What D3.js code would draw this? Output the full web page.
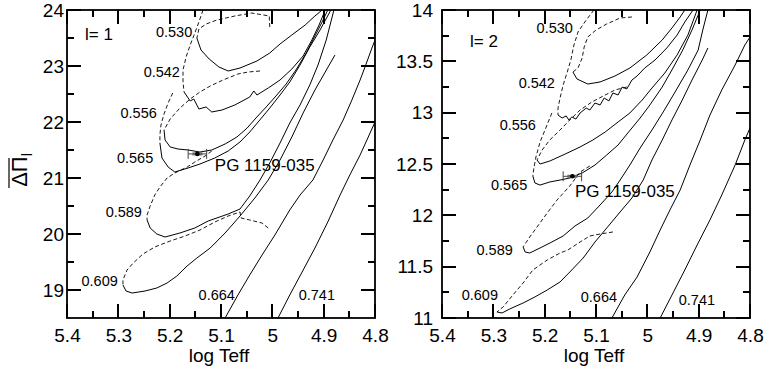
<!DOCTYPE html>
<html>
<head>
<meta charset="utf-8">
<script src="https://cdnjs.cloudflare.com/ajax/libs/d3/7.8.5/d3.min.js"></script>
<style>
  body { margin: 0; background: #fff; }
  svg { font-family: "Liberation Sans", Arial, sans-serif; display: block; }
</style>
</head>
<body>
<div class="svg-container"></div>
<script>
// stellar masses of the tracks (Msun)
const masses = ['0.530', '0.542', '0.556', '0.565', '0.589', '0.609', '0.664', '0.741'];

// l = 1 : [log Teff, mean period spacing (s)], dashed = before the knee, solid = after
const l1Dashed = [
  [[5.005,23.696],[5.006,23.893],[5.040,23.946],[5.073,23.893],[5.108,23.821],[5.129,23.750],[5.143,23.661],[5.147,23.500]],
  [[5.135,24.0],[5.143,23.786],[5.151,23.589],[5.160,23.375],[5.168,23.161],[5.174,22.929],[5.174,22.714],[5.172,22.536]],
  [[5.024,22.911],[5.047,22.893],[5.067,22.857],[5.096,22.750],[5.121,22.643],[5.141,22.536],[5.160,22.411],[5.180,22.250],[5.199,22.054],[5.211,21.857]],
  [[5.194,22.518],[5.203,22.339],[5.211,22.143],[5.217,21.946],[5.219,21.768],[5.219,21.625]],
  [[5.118,21.482],[5.131,21.393],[5.151,21.286],[5.166,21.196],[5.190,21.089],[5.205,21.000],[5.219,20.839],[5.229,20.696],[5.238,20.500],[5.244,20.339],[5.244,20.250]],
  [[5.008,20.107],[5.020,20.196],[5.044,20.250],[5.061,20.286],[5.063,20.393],[5.086,20.321],[5.112,20.214],[5.141,20.071],[5.170,19.964],[5.199,19.875],[5.229,19.768],[5.252,19.643],[5.271,19.482],[5.283,19.357],[5.291,19.179],[5.291,19.089]],
  [],
  []
];
const l1Solid = [
  [[5.147,23.500],[5.139,23.286],[5.123,23.125],[5.104,22.982],[5.086,22.911],[5.063,22.964],[5.030,23.089],[5.005,23.232],[4.985,23.393],[4.962,23.554],[4.936,23.732],[4.917,23.893],[4.903,24.0]],
  [[5.172,22.536],[5.160,22.375],[5.153,22.411],[5.143,22.232],[5.129,22.268],[5.118,22.179],[5.098,22.214],[5.073,22.304],[5.044,22.446],[5.036,22.554],[5.030,22.482],[5.008,22.607],[4.985,22.750],[4.962,22.946],[4.940,23.179],[4.923,23.464],[4.909,23.732],[4.897,24.0]],
  [[5.211,21.857],[5.209,21.679],[5.199,21.554],[5.184,21.518],[5.164,21.500],[5.141,21.464],[5.118,21.500],[5.092,21.607],[5.069,21.732],[5.049,21.893],[5.032,22.071],[5.012,22.268],[4.993,22.464],[4.973,22.679],[4.954,22.929],[4.934,23.232],[4.917,23.536],[4.903,23.786],[4.892,24.0]],
  [[5.219,21.625],[5.215,21.357],[5.203,21.196],[5.190,21.107],[5.164,21.179],[5.141,21.250],[5.112,21.357],[5.086,21.482],[5.063,21.643],[5.044,21.821],[5.026,22.018],[5.005,22.250],[4.985,22.482],[4.966,22.714],[4.946,23.018],[4.927,23.339],[4.907,23.643],[4.886,24.0]],
  [[5.244,20.250],[5.238,20.107],[5.225,20.0],[5.209,19.946],[5.180,20.018],[5.151,20.107],[5.125,20.232],[5.086,20.357],[5.063,20.446],[5.044,20.679],[5.024,20.964],[5.005,21.268],[4.985,21.625],[4.966,21.982],[4.946,22.304],[4.927,22.661],[4.911,23.018],[4.895,23.464],[4.880,24.0]],
  [[5.291,19.089],[5.285,18.982],[5.273,18.946],[5.248,18.982],[5.225,19.036],[5.205,19.125],[5.186,19.250],[5.166,19.429],[5.147,19.571],[5.121,19.750],[5.092,20.018],[5.063,20.321],[5.034,20.643],[5.008,20.964],[4.985,21.321],[4.962,21.732],[4.940,22.161],[4.917,22.571],[4.897,22.893],[4.878,23.196]],
  [[5.092,18.5],[5.067,18.911],[5.044,19.268],[5.020,19.625],[4.995,19.982],[4.966,20.429],[4.946,20.696],[4.921,20.964],[4.901,21.321],[4.882,21.679],[4.862,22.036],[4.845,22.393],[4.829,22.750],[4.818,23.018],[4.806,23.321],[4.800,23.464]],
  [[4.989,18.5],[4.966,18.911],[4.942,19.321],[4.917,19.750],[4.892,20.214],[4.868,20.696],[4.849,21.054],[4.829,21.411],[4.814,21.714],[4.800,22.0]]
];
// label anchors (right end of text, baseline)
const l1LabelAt = [[5.156,23.518],[5.180,22.804],[5.225,22.071],[5.232,21.268],[5.254,20.304],[5.301,19.071],[5.073,18.821],[4.878,18.821]];

// l = 2
const l2Dashed = [
  [[5.030,13.932],[5.053,13.922],[5.079,13.864],[5.100,13.805],[5.116,13.737],[5.123,13.640],[5.127,13.532],[5.135,13.435],[5.145,13.396]],
  [[5.104,14.0],[5.119,13.903],[5.135,13.786],[5.143,13.659],[5.149,13.513],[5.156,13.396],[5.164,13.269],[5.170,13.143],[5.174,13.045],[5.174,12.977]],
  [[5.040,13.250],[5.063,13.221],[5.086,13.162],[5.108,13.104],[5.131,13.026],[5.151,12.929],[5.170,12.831],[5.190,12.734],[5.205,12.636],[5.215,12.539]],
  [[5.186,12.997],[5.197,12.860],[5.209,12.714],[5.217,12.568],[5.221,12.461],[5.223,12.383]],
  [[5.112,12.481],[5.131,12.422],[5.151,12.286],[5.176,12.149],[5.195,12.023],[5.215,11.886],[5.229,11.789],[5.242,11.692]],
  [[5.067,11.838],[5.092,11.818],[5.112,11.799],[5.131,11.740],[5.155,11.662],[5.170,11.633],[5.195,11.565],[5.223,11.468],[5.242,11.341],[5.262,11.224],[5.281,11.107],[5.293,11.059]],
  [],
  []
];
const l2Solid = [
  [[5.145,13.396],[5.137,13.328],[5.116,13.279],[5.092,13.299],[5.063,13.357],[5.034,13.435],[5.001,13.562],[4.971,13.708],[4.952,13.825],[4.936,13.932],[4.927,14.0]],
  [[5.174,12.977],[5.166,12.948],[5.158,12.968],[5.153,12.929],[5.147,12.958],[5.139,12.938],[5.131,12.997],[5.119,13.045],[5.112,13.026],[5.102,13.094],[5.092,13.075],[5.084,13.143],[5.075,13.114],[5.067,13.192],[5.057,13.172],[5.049,13.250],[5.040,13.231],[5.030,13.318],[5.020,13.357],[5.005,13.435],[4.985,13.513],[4.962,13.630],[4.942,13.756],[4.927,13.883],[4.911,14.0]],
  [[5.215,12.539],[5.209,12.500],[5.190,12.529],[5.160,12.597],[5.131,12.666],[5.106,12.734],[5.082,12.812],[5.057,12.909],[5.034,12.997],[5.010,13.123],[4.991,13.240],[4.966,13.386],[4.942,13.562],[4.921,13.756],[4.903,14.0]],
  [[5.223,12.383],[5.219,12.315],[5.209,12.295],[5.190,12.325],[5.170,12.344],[5.151,12.364],[5.127,12.412],[5.102,12.490],[5.079,12.588],[5.057,12.685],[5.038,12.802],[5.014,12.948],[4.995,13.075],[4.971,13.250],[4.950,13.435],[4.931,13.610],[4.913,13.805],[4.897,14.0]],
  [[5.242,11.692],[5.238,11.643],[5.229,11.633],[5.209,11.682],[5.186,11.740],[5.164,11.799],[5.141,11.896],[5.116,11.974],[5.092,12.101],[5.069,12.227],[5.053,12.344],[5.034,12.490],[5.014,12.656],[4.991,12.831],[4.969,13.007],[4.946,13.201],[4.921,13.416],[4.901,13.610],[4.892,13.805],[4.882,14.0]],
  [[5.293,11.059],[5.283,11.049],[5.268,11.088],[5.242,11.146],[5.219,11.205],[5.195,11.273],[5.170,11.351],[5.151,11.448],[5.125,11.584],[5.102,11.740],[5.079,11.877],[5.053,12.033],[5.030,12.169],[5.008,12.344],[4.991,12.539],[4.971,12.734],[4.952,12.929],[4.932,13.123],[4.913,13.318],[4.893,13.513],[4.882,13.630]],
  [[5.069,11.0],[5.044,11.224],[5.020,11.399],[4.995,11.643],[4.975,11.857],[4.956,12.052],[4.936,12.247],[4.917,12.490],[4.897,12.734],[4.878,12.977],[4.855,13.221],[4.829,13.464],[4.810,13.659],[4.800,13.737]],
  [[4.975,11.0],[4.952,11.224],[4.927,11.468],[4.903,11.711],[4.878,11.955],[4.855,12.198],[4.829,12.490],[4.810,12.734],[4.800,12.851]]
];
const l2LabelAt = [[5.145,13.776],[5.180,13.240],[5.217,12.831],[5.234,12.247],[5.262,11.614],[5.291,11.175],[5.059,11.156],[4.868,11.127]];

// PG 1159-035: log Teff (low, mid, high) and observed spacings for l=1, l=2
const pgName = 'PG 1159-035';
const pgLogTeff = [5.128, 5.146, 5.164];
const pgSpacing = [21.43, 12.38];
const pgLabelAt = [[5.112, 21.125], [5.141, 12.179]];

// axis ticks
const xMajor = [5.4, 5.3, 5.2, 5.1, 5, 4.9, 4.8];
const xMinor = [5.35, 5.25, 5.15, 5.05, 4.95, 4.85];
const l1Major = [19, 20, 21, 22, 23, 24];
const l1Minor = [19.5, 20.5, 21.5, 22.5, 23.5];
const l2Major = [11, 11.5, 12, 12.5, 13, 13.5, 14];
const l2Minor = [11.25, 11.75, 12.25, 12.75, 13.25, 13.75];

const W = 766, H = 372;
const plotTop = 10, plotBottom = 318, pw = 308;
const majorLen = 14, minorLen = 7;

const svg = d3.select('.svg-container').append('svg')
  .attr('width', W).attr('height', H);

// tick marks are collected here and drawn last, on top of everything
const tickLayer = [];

function drawPanel(p) {
  const x = d3.scaleLinear().domain([5.4, 4.8]).range([p.left, p.left + pw]);
  const y = d3.scaleLinear().domain(p.yDomain).range([plotBottom, plotTop]);
  const right = p.left + pw;
  const g = svg.append('g');

  g.append('clipPath').attr('id', 'clip' + p.id)
    .append('rect').attr('x', p.left).attr('y', plotTop).attr('width', pw).attr('height', plotBottom - plotTop);

  const line = d3.line().x(d => x(d[0])).y(d => y(d[1]));
  const tracks = g.append('g').attr('clip-path', `url(#clip${p.id})`);

  tracks.selectAll('.solid')
    .data(p.solid)
    .join('path')
    .attr('class', 'solid')
    .attr('d', d => line(d))
    .attr('fill', 'none').attr('stroke', '#000').attr('stroke-width', 1);

  tracks.selectAll('.dashed')
    .data(p.dashed.filter(d => d.length))
    .join('path')
    .attr('class', 'dashed')
    .attr('d', d => line(d))
    .attr('fill', 'none').attr('stroke', '#000').attr('stroke-width', 0.9)
    .attr('stroke-dasharray', '4,2.5');

  // mass labels
  g.selectAll('.mass-label')
    .data(masses)
    .join('text')
    .attr('class', 'mass-label')
    .attr('x', (d, i) => x(p.labelAt[i][0]))
    .attr('y', (d, i) => y(p.labelAt[i][1]))
    .attr('text-anchor', 'end')
    .attr('font-size', 14.5)
    .text(d => d);

  // error bar for PG 1159-035
  const ey = y(p.pgY);
  g.append('line')
    .attr('x1', x(pgLogTeff[0])).attr('x2', x(pgLogTeff[2]))
    .attr('y1', ey).attr('y2', ey)
    .attr('stroke', '#444').attr('stroke-width', 1);
  g.selectAll('.cap')
    .data([pgLogTeff[0], pgLogTeff[2]])
    .join('line')
    .attr('class', 'cap')
    .attr('x1', d => x(d)).attr('x2', d => x(d))
    .attr('y1', ey - 5).attr('y2', ey + 5)
    .attr('stroke', '#444').attr('stroke-width', 1);
  g.append('line')
    .attr('x1', x(pgLogTeff[1]) - 5).attr('x2', x(pgLogTeff[1]) + 5)
    .attr('y1', ey).attr('y2', ey)
    .attr('stroke', '#666').attr('stroke-width', 3);
  g.append('circle')
    .attr('cx', x(pgLogTeff[1])).attr('cy', ey).attr('r', 2.3)
    .attr('fill', '#000');

  g.append('text')
    .attr('x', x(p.pgLabel[0])).attr('y', y(p.pgLabel[1]))
    .attr('font-size', 17)
    .text(pgName);

  g.append('text')
    .attr('x', p.left + p.lPos[0]).attr('y', p.lPos[1])
    .attr('font-size', 17)
    .text(p.lText);

  // tick labels from d3 axes
  const fmt = d => d;
  g.append('g').attr('class', 'x-axis').attr('transform', `translate(0,${plotBottom})`)
    .call(d3.axisBottom(x).tickValues(xMajor).tickSize(0).tickPadding(10.5).tickFormat(fmt));
  g.append('g').attr('class', 'y-axis').attr('transform', `translate(${p.left},0)`)
    .call(d3.axisLeft(y).tickValues(p.major).tickSize(0).tickPadding(p.yPad).tickFormat(fmt));
  g.selectAll('.domain').remove();
  g.selectAll('.tick text')
    .attr('font-family', '"Liberation Sans", Arial, sans-serif')
    .attr('font-size', 19).attr('fill', '#000');

  // frame
  g.append('rect')
    .attr('x', p.left).attr('y', plotTop).attr('width', pw).attr('height', plotBottom - plotTop)
    .attr('fill', 'none').attr('stroke', '#000').attr('stroke-width', 1.8);

  // inward ticks on all four sides (segments through the scales)
  xMajor.map(v => [v, majorLen]).concat(xMinor.map(v => [v, minorLen])).forEach(([v, len]) => {
    const px = x(v);
    tickLayer.push({ x1: px, y1: plotBottom, x2: px, y2: plotBottom - len });
    tickLayer.push({ x1: px, y1: plotTop, x2: px, y2: plotTop + len });
  });
  p.major.map(v => [v, majorLen]).concat(p.minor.map(v => [v, minorLen])).forEach(([v, len]) => {
    const py = y(v);
    tickLayer.push({ x1: p.left, y1: py, x2: p.left + len, y2: py });
    tickLayer.push({ x1: right, y1: py, x2: right - len, y2: py });
  });

  svg.append('text')
    .attr('x', p.left + pw / 2 - 2).attr('y', 362)
    .attr('text-anchor', 'middle')
    .attr('font-size', 19)
    .text('log Teff');
}

drawPanel({
  id: 1, left: 67, yDomain: [18.5, 24],
  solid: l1Solid, dashed: l1Dashed, labelAt: l1LabelAt,
  major: l1Major, minor: l1Minor, yPad: 3,
  pgY: pgSpacing[0], pgLabel: pgLabelAt[0],
  lText: 'l= 1', lPos: [18, 40]
});

drawPanel({
  id: 2, left: 442, yDomain: [11, 14],
  solid: l2Solid, dashed: l2Dashed, labelAt: l2LabelAt,
  major: l2Major, minor: l2Minor, yPad: 9,
  pgY: pgSpacing[1], pgLabel: pgLabelAt[1],
  lText: 'l= 2', lPos: [28, 47]
});

svg.append('g')
  .attr('class', 'tick-marks')
  .selectAll('line')
  .data(tickLayer)
  .join('line')
  .attr('x1', d => d.x1).attr('y1', d => d.y1)
  .attr('x2', d => d.x2).attr('y2', d => d.y2)
  .attr('stroke', '#000')
  .attr('stroke-width', 2)
  .attr('shape-rendering', 'crispEdges');

// y axis title: mean period spacing with overline
const yTitle = svg.append('g').attr('transform', 'translate(27,170) rotate(-90)');
const ytt = yTitle.append('text')
  .attr('text-anchor', 'middle')
  .attr('font-size', 22);
ytt.append('tspan').text('ΔΠ');
ytt.append('tspan').attr('font-size', 14).attr('dy', 5).text('l');
yTitle.append('line')
  .attr('x1', -18).attr('x2', 12)
  .attr('y1', -18).attr('y2', -18)
  .attr('stroke', '#000').attr('stroke-width', 1.2);
</script>
</body>
</html>
